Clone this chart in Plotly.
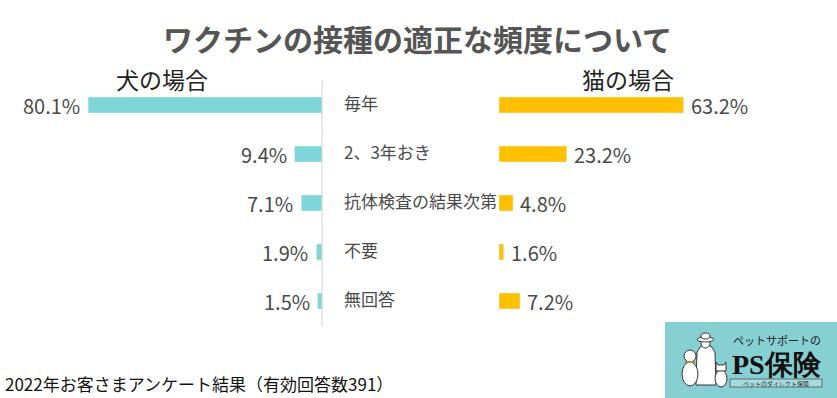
import plotly.graph_objects as go

categories = ["毎年", "2、3年おき", "抗体検査の結果次第", "不要", "無回答"]
dog_values = [80.1, 9.4, 7.1, 1.9, 1.5]
cat_values = [63.2, 23.2, 4.8, 1.6, 7.2]
dog_labels = ["80.1%", "9.4%", "7.1%", "1.9%", "1.5%"]
cat_labels = ["63.2%", "23.2%", "4.8%", "1.6%", "7.2%"]

FW, FH = 837, 398
PXPCT = 2.92
ROW0, ROWGAP = 105, 49
ypos = list(range(len(categories)))

DOG = "#7FD6D8"
CAT = "#FFC000"
TXT = "#4a4a4a"
FONT = "Noto Sans CJK JP"


def px(x):
    return x / FW


def py(y):
    return 1 - y / FH


fig = go.Figure()
fig.add_trace(go.Bar(y=ypos, x=dog_values, orientation="h", marker_color=DOG,
                     width=16 / ROWGAP, xaxis="x", yaxis="y", hoverinfo="skip"))
fig.add_trace(go.Bar(y=ypos, x=cat_values, orientation="h", marker_color=CAT,
                     width=16 / ROWGAP, xaxis="x2", yaxis="y", hoverinfo="skip"))

dog_right = 322
cat_left = 499
ann = []
for i, (c, dv, cv, dl, cl) in enumerate(zip(categories, dog_values, cat_values, dog_labels, cat_labels)):
    ann.append(dict(x=dv, y=i, xref="x", yref="y", text=dl, showarrow=False,
                    xanchor="right", yanchor="middle", xshift=-6,
                    font=dict(size=20, color=TXT, family=FONT)))
    ann.append(dict(x=cv, y=i, xref="x2", yref="y", text=cl, showarrow=False,
                    xanchor="left", yanchor="middle", xshift=5,
                    font=dict(size=20, color=TXT, family=FONT)))
    ann.append(dict(x=px(342), y=i, xref="paper", yref="y", text=c, showarrow=False,
                    xanchor="left", yanchor="middle", yshift=3,
                    font=dict(size=17, color=TXT, family=FONT)))


def txt(x, y, s, size, color, family=FONT, xa="center"):
    return dict(x=px(x), y=py(y), xref="paper", yref="paper", text=s, showarrow=False,
                xanchor=xa, yanchor="middle", font=dict(size=size, color=color, family=family))


ann += [
    txt(417, 38, "<b>ワクチンの接種の適正な頻度について</b>", 30, "#555555"),
    txt(162, 79, "犬の場合", 23, "#222222"),
    txt(628, 79, "猫の場合", 23, "#222222"),
    txt(3, 383, "2022年お客さまアンケート結果（有効回答数391）", 17, "#111111", xa="left"),
    txt(777, 340, "ペットサポートの", 11, "#222222"),
    txt(777, 364, "<b>PS保険</b>", 28, "#111111", family="Liberation Serif, DejaVu Serif, serif"),
    txt(776, 383, "ペットのダイレクト保険", 6, "#333333"),
]


def path(points):
    return "M " + " L ".join(f"{px(x):.5f},{py(y):.5f}" for x, y in points) + " Z"


LINE = dict(color="#333333", width=1)
shapes = [
    dict(type="line", xref="paper", yref="paper", x0=px(dog_right), x1=px(dog_right),
         y0=py(80), y1=py(326), line=dict(color="#d0d0d0", width=1)),
    dict(type="rect", xref="paper", yref="paper", x0=px(665), x1=1, y0=0, y1=py(322),
         fillcolor="#86CFD2", line=dict(width=0), layer="below"),
    dict(type="rect", xref="paper", yref="paper", x0=px(730), x1=px(822), y0=py(387), y1=py(379),
         fillcolor="rgba(255,255,255,0.25)", line=dict(color="#555555", width=0.8)),
    # person (body, head, hat)
    dict(type="path", xref="paper", yref="paper",
         path=path([(696, 385), (697, 352), (701, 346), (711, 346), (715, 352), (716, 385)]),
         fillcolor="white", line=LINE),
    dict(type="circle", xref="paper", yref="paper", x0=px(701), x1=px(710), y0=py(348), y1=py(339),
         fillcolor="white", line=LINE),
    dict(type="circle", xref="paper", yref="paper", x0=px(697), x1=px(714), y0=py(342), y1=py(337),
         fillcolor="white", line=LINE),
    dict(type="circle", xref="paper", yref="paper", x0=px(701), x1=px(710), y0=py(339), y1=py(333),
         fillcolor="white", line=LINE),
    # dog
    dict(type="circle", xref="paper", yref="paper", x0=px(682), x1=px(698), y0=py(386), y1=py(362),
         fillcolor="white", line=LINE),
    dict(type="circle", xref="paper", yref="paper", x0=px(684), x1=px(696), y0=py(362), y1=py(350),
         fillcolor="white", line=LINE),
    dict(type="line", xref="paper", yref="paper", x0=px(685), x1=px(695), y0=py(362), y1=py(362),
         line=dict(color="#b08a3a", width=2)),
    # cat
    dict(type="circle", xref="paper", yref="paper", x0=px(715), x1=px(727), y0=py(387), y1=py(370),
         fillcolor="white", line=LINE),
    dict(type="path", xref="paper", yref="paper",
         path=path([(716, 371), (716, 362), (718, 365), (724, 365), (726, 362), (726, 371)]),
         fillcolor="white", line=LINE),
]

fig.update_layout(
    width=FW, height=FH, margin=dict(l=0, r=0, t=0, b=0),
    paper_bgcolor="white", plot_bgcolor="white", showlegend=False,
    xaxis=dict(domain=[0, px(dog_right)], range=[dog_right / PXPCT, 0],
               visible=False, fixedrange=True),
    xaxis2=dict(domain=[px(cat_left), 1], range=[0, (FW - cat_left) / PXPCT],
                visible=False, fixedrange=True),
    yaxis=dict(domain=[0, 1], range=[(FH - ROW0) / ROWGAP, -ROW0 / ROWGAP],
               visible=False, fixedrange=True),
    annotations=ann, shapes=shapes,
)
fig.write_html(
    "out.html",
    config={"displayModeBar": False},
    post_script="document.body.style.margin='0';document.body.style.overflow='hidden';",
)
